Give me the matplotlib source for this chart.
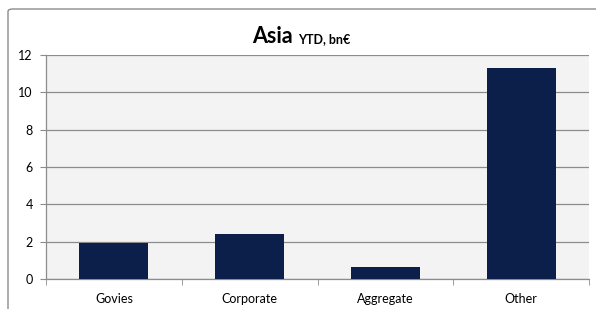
import matplotlib.pyplot as plt
import numpy as np
from matplotlib.patches import FancyBboxPatch

categories = ['Govies', 'Corporate', 'Aggregate', 'Other']
values = [1.95, 2.43, 0.65, 11.32]
yticks = [0, 2, 4, 6, 8, 10, 12]

plt.rcParams['font.family'] = ['Lato', 'DejaVu Sans']

fig = plt.figure(figsize=(5.96, 3.09), dpi=100)
fig.patch.set_facecolor('white')

# outer chart border (cropped at right and bottom like the reference)
border = FancyBboxPatch((8 / 596, -20 / 309), 620 / 596, 320 / 309,
                        boxstyle='round,pad=0,rounding_size=0.008',
                        transform=fig.transFigure, facecolor='none',
                        edgecolor='#8c8c8c', linewidth=1.0)
fig.patches.append(border)

ax = fig.add_axes([46 / 596, 1 - 279 / 309, 543 / 596, 224 / 309])
ax.set_facecolor('#f3f3f3')

indice = np.arange(len(categories))
ax.bar(indice, values, width=0.51, color='#0c1e4a', zorder=3)

ax.set_xlim(-0.5, len(categories) - 0.5)
ax.set_ylim(0, 12)
ax.set_yticks(yticks)
ax.set_yticklabels([str(t) for t in yticks], fontsize=9)
ax.yaxis.grid(True, color='#8c8c8c', linewidth=0.9, zorder=0)

ax.set_xticks(indice)
ax.set_xticklabels(categories, fontsize=9)
ax.set_xticks(np.arange(-0.5, len(categories)), minor=True)
ax.tick_params(axis='x', which='major', length=0, pad=10)
ax.tick_params(axis='x', which='minor', length=4, color='#8c8c8c', direction='out')
ax.tick_params(axis='y', length=4, color='#8c8c8c', direction='out', pad=5.5)

for s in ['top', 'right']:
    ax.spines[s].set_visible(False)
for s in ['left', 'bottom']:
    ax.spines[s].set_color('#8c8c8c')
    ax.spines[s].set_linewidth(0.9)

fig.text(293 / 596, 1 - 43 / 309, 'Asia', ha='right', va='baseline',
         fontsize=15.5, fontweight='bold')
fig.text(298 / 596, 1 - 43 / 309, 'YTD, bn€', ha='left', va='baseline',
         fontsize=9, fontweight='bold')

fig.savefig('out.png', dpi=100)
